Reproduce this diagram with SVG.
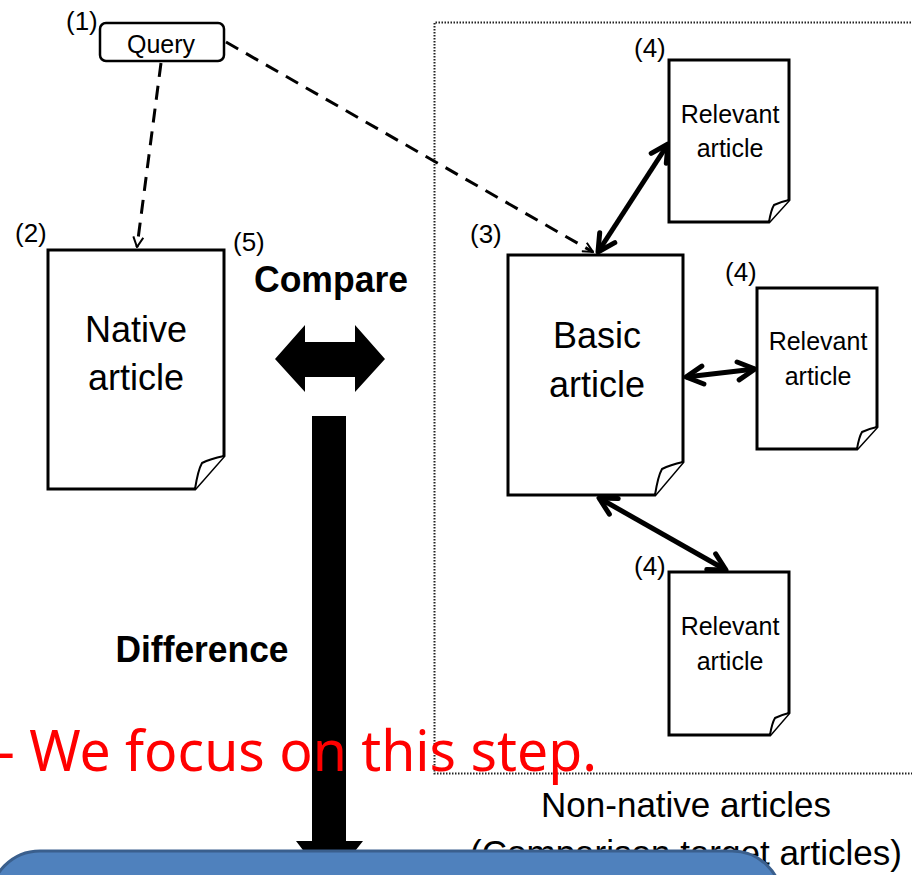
<svg xmlns="http://www.w3.org/2000/svg" width="912" height="875" viewBox="0 0 912 875">
<style>
.lbl{font-family:"Liberation Sans",Arial,sans-serif;fill:#000}
.num{font-size:26px}
.doc{fill:#fff;stroke:#000;stroke-width:3;stroke-linejoin:miter}
.fold{fill:#fff;stroke:#000;stroke-width:2}
.dash{fill:none;stroke:#000;stroke-width:3;stroke-dasharray:14 9}
.thick{fill:none;stroke:#000;stroke-width:5}
.bold{font-weight:bold;font-size:36px}
</style>
<defs>
<marker id="chev" viewBox="0 0 24 24" refX="21" refY="12" markerWidth="24" markerHeight="24" markerUnits="userSpaceOnUse" orient="auto-start-reverse">
<path d="M 4 3 L 21 12 L 4 21" fill="none" stroke="#000" stroke-width="5" stroke-linecap="round" stroke-linejoin="round"/>
</marker>
<marker id="open" viewBox="0 0 12 12" refX="11" refY="6" markerWidth="12" markerHeight="12" markerUnits="userSpaceOnUse" orient="auto">
<path d="M 1 1 L 11 6 L 1 11" fill="none" stroke="#000" stroke-width="2"/>
</marker>
</defs>
<rect width="912" height="875" fill="#fff"/>

<g id="nonnative-frame">
<path d="M 920 22.5 H 434.5 V 773.5 H 920" fill="none" stroke="#222" stroke-width="2" stroke-dasharray="1.5 1.5"/>
<text class="lbl" x="686" y="817" font-size="35" text-anchor="middle">Non-native articles</text>
<text class="lbl" x="686" y="865" font-size="35" text-anchor="middle">(Comparison target articles)</text>
</g>

<g id="connectors">
<line class="dash" x1="161" y1="63" x2="137" y2="247" marker-end="url(#open)"/>
<line class="dash" x1="226" y1="42" x2="593" y2="252" marker-end="url(#open)"/>
<line class="thick" x1="598" y1="252" x2="668" y2="144" marker-start="url(#chev)" marker-end="url(#chev)"/>
<line class="thick" x1="686" y1="377" x2="755" y2="369" marker-start="url(#chev)" marker-end="url(#chev)"/>
<line class="thick" x1="599" y1="498" x2="726" y2="570" marker-start="url(#chev)" marker-end="url(#chev)"/>
</g>

<g id="query">
<rect x="100" y="23" width="124" height="38" rx="6" fill="#fff" stroke="#000" stroke-width="2.5"/>
<text class="lbl" x="161" y="53" font-size="25" text-anchor="middle">Query</text>
<text class="lbl num" x="66" y="30">(1)</text>
</g>

<g id="native-article">
<path class="doc" d="M 48 250 H 224 V 456 L 195 489 H 48 Z"/>
<path class="fold" d="M 195 489 Q 198 470 202 463 Q 210 459 224 456"/>
<text class="lbl" x="136" y="342" font-size="36" text-anchor="middle">Native</text>
<text class="lbl" x="136" y="390" font-size="36" text-anchor="middle">article</text>
<text class="lbl num" x="15" y="242">(2)</text>
</g>

<g id="compare">
<text class="lbl num" x="233" y="251">(5)</text>
<text class="lbl bold" x="331" y="292" text-anchor="middle" textLength="154" lengthAdjust="spacingAndGlyphs">Compare</text>
<path d="M 275 359 L 305 325 V 342 H 355 V 325 L 385 359 L 355 392 V 377 H 305 V 392 Z" fill="#000"/>
</g>

<g id="difference">
<path d="M 312 416 H 346 V 841 H 363 L 329 884 L 296 841 H 312 Z" fill="#000"/>
<text class="lbl bold" x="202" y="662" text-anchor="middle" textLength="173" lengthAdjust="spacingAndGlyphs">Difference</text>
</g>

<g id="basic-article">
<path class="doc" d="M 508 255 H 683 V 462 L 655 495 H 508 Z"/>
<path class="fold" d="M 655 495 Q 658 476 662 469 Q 670 465 683 462"/>
<text class="lbl" x="597" y="348" font-size="36" text-anchor="middle">Basic</text>
<text class="lbl" x="597" y="397" font-size="36" text-anchor="middle">article</text>
<text class="lbl num" x="470" y="243">(3)</text>
</g>

<g id="relevant-1">
<path class="doc" d="M 669 60 H 789 V 200 L 769 222 H 669 Z"/>
<path class="fold" d="M 769 222 Q 771 210 774 205 Q 780 202 789 200"/>
<text class="lbl" x="730" y="123" font-size="25" text-anchor="middle">Relevant</text>
<text class="lbl" x="730" y="157" font-size="25" text-anchor="middle">article</text>
<text class="lbl num" x="634" y="57">(4)</text>
</g>

<g id="relevant-2">
<path class="doc" d="M 757 288 H 877 V 427 L 857 449 H 757 Z"/>
<path class="fold" d="M 857 449 Q 859 437 862 432 Q 868 429 877 427"/>
<text class="lbl" x="818" y="350" font-size="25" text-anchor="middle">Relevant</text>
<text class="lbl" x="818" y="385" font-size="25" text-anchor="middle">article</text>
<text class="lbl num" x="725" y="281">(4)</text>
</g>

<g id="relevant-3">
<path class="doc" d="M 669 572 H 789 V 713 L 770 735 H 669 Z"/>
<path class="fold" d="M 770 735 Q 772 723 775 718 Q 781 715 789 713"/>
<text class="lbl" x="730" y="635" font-size="25" text-anchor="middle">Relevant</text>
<text class="lbl" x="730" y="670" font-size="25" text-anchor="middle">article</text>
<text class="lbl num" x="634" y="575">(4)</text>
</g>

<g id="focus-note">
<text x="-3" y="771" font-family="'Noto Sans','Open Sans',sans-serif" font-size="56" fill="#ff0000" textLength="600" lengthAdjust="spacingAndGlyphs">- We focus on this step.</text>
</g>

<g id="blue-box">
<rect x="-10" y="851" width="792" height="120" rx="50" fill="#4f81bd" stroke="#3a5f8d" stroke-width="3"/>
</g>
</svg>
